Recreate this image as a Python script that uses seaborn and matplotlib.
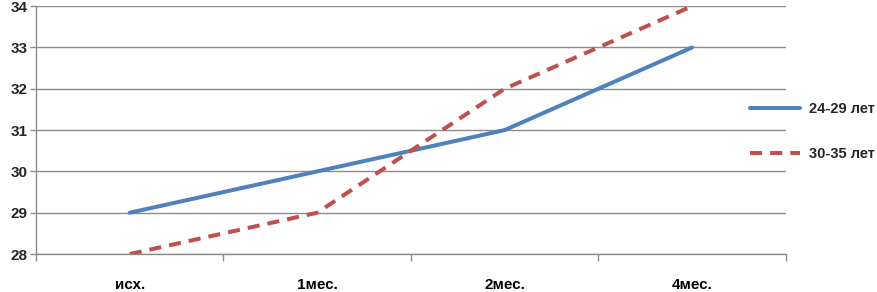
import pandas as pd
import seaborn as sns
import matplotlib.pyplot as plt
from matplotlib.ticker import FixedLocator

periods = ['исх.', '1мес.', '2мес.', '4мес.']
group_young = [29, 30, 31, 33]
group_old = [28, 29, 32, 34]
series_names = ['24-29 лет', '30-35 лет']


def build_frame():
    rows = []
    for name, vals in zip(series_names, [group_young, group_old]):
        for i, v in enumerate(vals):
            rows.append([name, i, v])
    return pd.DataFrame(rows, columns=['group', 'pos', 'value'])


df = build_frame()

sns.set_style('white')
plt.rcParams['font.family'] = ['Liberation Sans', 'DejaVu Sans']
plt.rcParams['font.weight'] = 'bold'

fig = plt.figure(figsize=(8.78, 2.92), dpi=100)
ax = fig.add_axes([0.041, 0.130, 0.854, 0.849])

sns.lineplot(data=df, x='pos', y='value', hue='group', style='group',
             palette={'24-29 лет': '#4F81BD', '30-35 лет': '#C0504D'},
             dashes={'24-29 лет': '', '30-35 лет': (3, 2)},
             linewidth=2.9, ax=ax, legend=True)

ax.set_xlim(-0.5, 3.5)
ax.set_ylim(28, 34)
ax.set_yticks(range(28, 35))
ax.yaxis.grid(True, color='#8c8c8c', linewidth=1)
ax.set_axisbelow(True)

ax.set_xticks(range(len(periods)))
ax.set_xticklabels(periods)
ax.xaxis.set_minor_locator(FixedLocator([-0.5, 0.5, 1.5, 2.5, 3.5]))
ax.tick_params(axis='x', which='major', length=0, pad=17, labelsize=11, colors='black')
ax.tick_params(axis='x', which='minor', length=5, width=1, color='#8c8c8c', direction='out', bottom=True)
ax.tick_params(axis='y', length=4, width=1, color='#8c8c8c', labelsize=11, pad=2, left=True)

for s in ['top', 'right']:
    ax.spines[s].set_visible(False)
for s in ['left', 'bottom']:
    ax.spines[s].set_color('#8c8c8c')
    ax.spines[s].set_linewidth(1)

ax.set_xlabel('')
ax.set_ylabel('')

handles, labels = ax.get_legend_handles_labels()
ax.legend(handles, labels, loc='center left', bbox_to_anchor=(0.945, 0.494),
          frameon=False, fontsize=10.5, handlelength=3.4, handletextpad=0.6,
          labelspacing=2.1, borderaxespad=0)

fig.savefig('out.png', dpi=100)
